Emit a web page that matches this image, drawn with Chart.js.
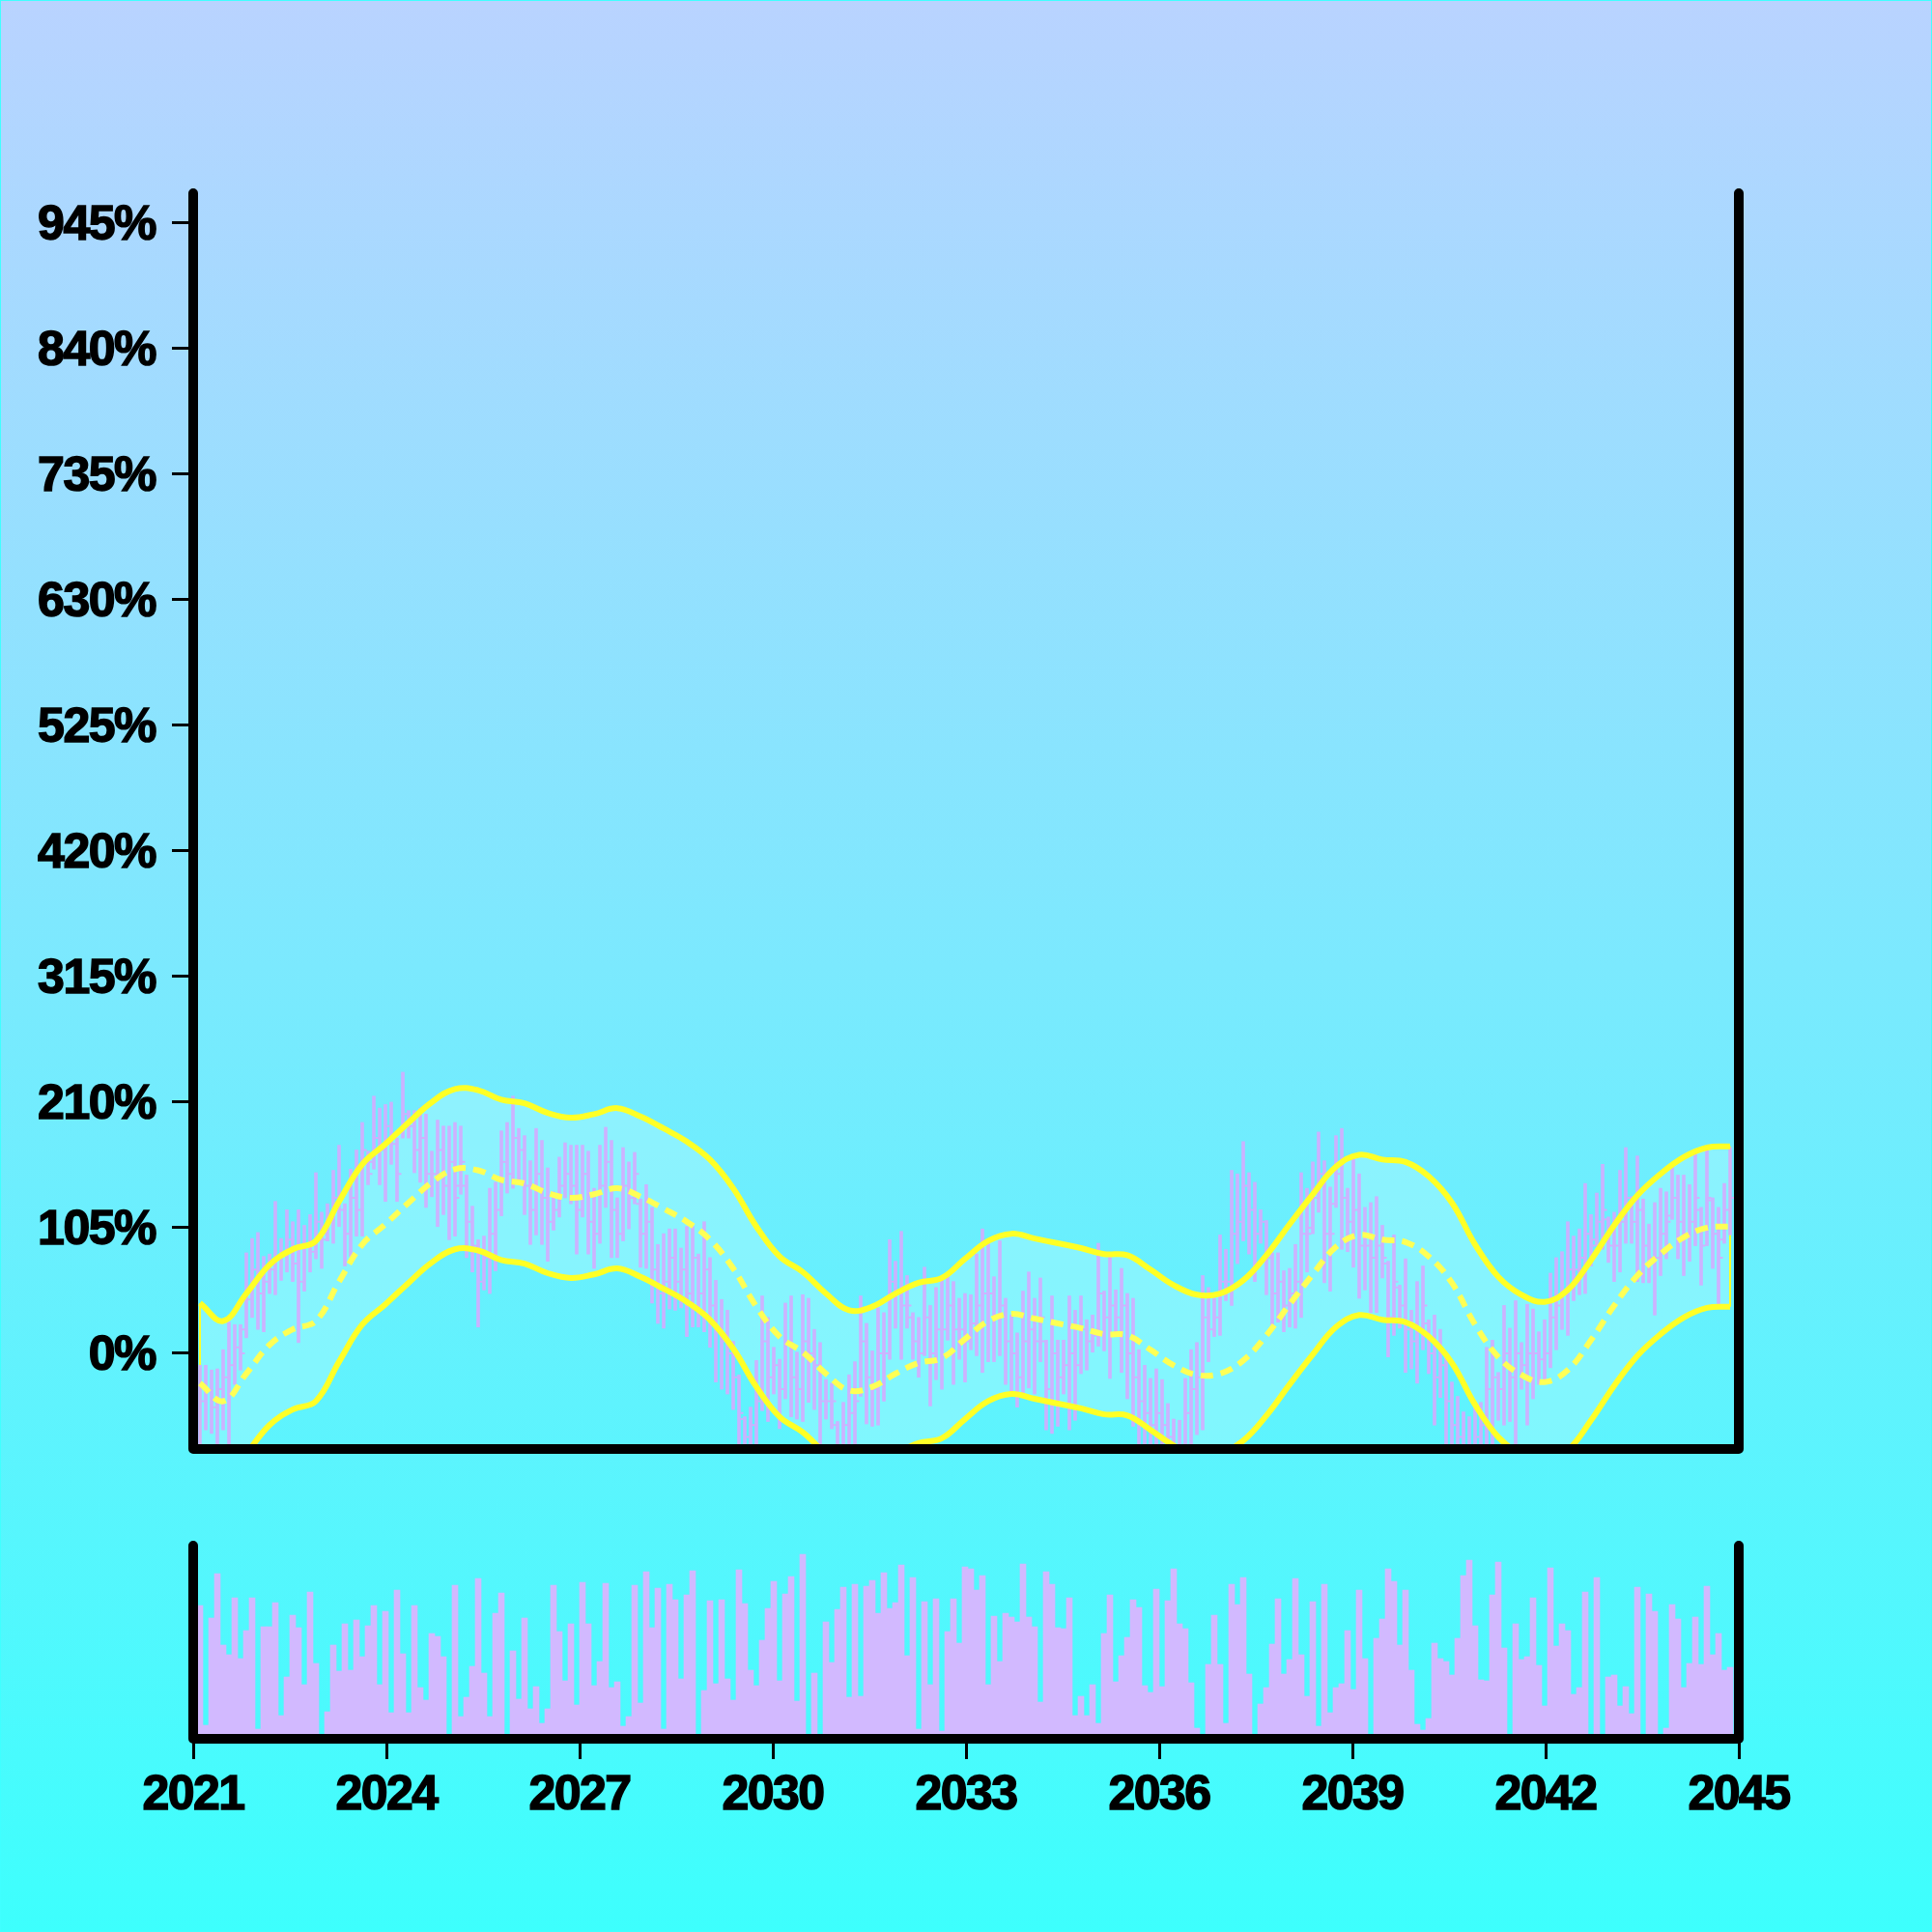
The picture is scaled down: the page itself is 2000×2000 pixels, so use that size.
<!DOCTYPE html>
<html>
<head>
<meta charset="utf-8">
<script src="https://cdn.jsdelivr.net/npm/chart.js@4.4.1/dist/chart.umd.min.js"></script>
<style>
  html, body { margin: 0; padding: 0; }
  body {
    width: 2000px; height: 2000px; position: relative; overflow: hidden;
    background: linear-gradient(to bottom, #b9d3ff 0%, #3dfffd 100%);
  }
  #frame { position: absolute; left: 0; top: 0; width: 1998px; height: 1998px; border: 1px solid #40ffff; }
  #priceChart { position: absolute; left: 0; top: 0; }
  #volumeChart { position: absolute; left: 0; top: 1580px; }
</style>
</head>
<body>
<div id="frame"></div>
<canvas id="priceChart" width="2000" height="1560"></canvas>
<canvas id="volumeChart" width="2000" height="420"></canvas>
<script>
// x tick labels (years) and y tick values (%)
const yearTicks = [2021, 2024, 2027, 2030, 2033, 2036, 2039, 2042, 2045];
const pctTicks = [0, 105, 210, 315, 420, 525, 630, 735, 840, 945];

// one bar every 0.09 year, first one just after 2021
const firstBar = 2021.105;
const barStep = 0.09;

const high = [
  -10, -10, -14, -13, 3, 26, 24, 24, 84, 96,
  101, 81, 83, 127, 96, 120, 110, 120, 107, 116,
  151, 118, 125, 153, 174, 125, 154, 170, 193, 169,
  215, 205, 208, 210, 180, 235, 203, 203, 205, 200,
  169, 195, 190, 190, 193, 190, 149, 123, 95, 98,
  138, 143, 186, 193, 215, 188, 182, 161, 188, 178,
  155, 135, 164, 176, 174, 174, 174, 169, 138, 174,
  189, 178, 130, 172, 160, 168, 129, 141, 122, 91,
  100, 104, 104, 88, 106, 106, 83, 110, 80, 61,
  45, 36, 10, -18, -53, -45, -6, 48, 30, 5,
  -5, 42, 48, 1, 49, 46, 20, 9, -22, -25,
  -57, -41, -18, -7, 48, 25, 2, 38, 34, 95,
  77, 102, 65, 34, 30, 72, 40, 55, 63, 65,
  60, 46, 50, 49, 83, 104, 92, 64, 94, 46,
  32, 17, 52, 68, 46, 63, 11, 48, 11, 11,
  48, 36, 48, 28, 32, 92, 52, 81, 53, 71,
  50, 46, 3, -10, -21, -13, -22, -42, -55, -56,
  -21, 3, 9, 65, 55, 46, 99, 87, 153, 150,
  177, 151, 143, 120, 111, 84, 84, 69, 71, 91,
  151, 138, 160, 185, 161, 139, 182, 188, 138, 164,
  150, 122, 126, 131, 107, 77, 99, 57, 79, 36,
  60, 73, 28, 32, 20, -2, -24, -36, -49, -53,
  -45, -41, 5, 11, -16, 40, 21, 44, 9, 41,
  37, 18, 28, 67, 80, 85, 110, 98, 104, 142,
  116, 134, 158, 114, 118, 153, 172, 131, 165, 129,
  108, 126, 138, 135, 157, 149, 149, 141, 169, 122,
  172, 130, 122, 142, 172
];
const low = [
  -85, -64, -67, -85, -64, -85, -26, -14, 13, 30,
  20, 18, 50, 49, 61, 68, 60, 9, 52, 68,
  79, 71, 94, 92, 106, 73, 81, 98, 98, 141,
  154, 141, 127, 158, 127, 180, 180, 151, 143, 122,
  131, 106, 116, 95, 98, 133, 80, 68, 22, 53,
  50, 69, 115, 134, 138, 145, 116, 91, 99, 91,
  77, 103, 114, 130, 125, 83, 114, 83, 71, 92,
  122, 80, 80, 94, 104, 125, 72, 71, 42, 25,
  21, 37, 36, 38, 14, 22, 22, 18, 5, -24,
  -30, -34, -47, -90, -95, -95, -90, -48, -57, -34,
  -63, -38, -53, -55, -57, -41, -47, -90, -55, -63,
  -95, -95, -90, -90, -36, -59, -61, -60, -40, -5,
  21, -5, 21, -5, -20, -2, -44, -22, -30, 11,
  -26, -5, -24, 3, -2, -16, -7, -7, -2, -26,
  -34, -45, -34, -29, -34, -7, -64, -67, -61, -34,
  -64, -56, -17, -14, 1, 6, 2, -21, 14, -16,
  -38, -61, -90, -92, -95, -92, -95, -100, -100, -100,
  -95, -90, -68, -64, -7, 14, 15, 44, 40, 75,
  94, 83, 60, 92, 49, 21, 26, 18, 22, 21,
  30, 68, 100, 118, 59, 52, 122, 87, 85, 72,
  46, 53, 34, 34, 63, -3, 15, 21, -16, -13,
  -25, 3, -17, -60, -37, -90, -92, -95, -100, -100,
  -98, -96, -90, -88, -56, -60, -57, -85, -30, -60,
  -38, -26, -24, -12, 3, 20, 15, 44, 49, 50,
  73, 90, 87, 76, 60, 68, 92, 92, 60, 59,
  59, 32, 65, 79, 112, 79, 65, 77, 90, 57,
  90, 71, 41, 92, 99
];
const open = [
  -50, -40, -30, -45, -30, -20, -10, 5, 20, 45,
  70, 50, 60, 70, 80, 85, 95, 75, 60, 90,
  85, 110, 100, 110, 130, 120, 100, 130, 120, 160,
  160, 180, 170, 190, 175, 185, 200, 190, 170, 180,
  150, 150, 170, 140, 160, 140, 140, 110, 90, 60,
  80, 100, 120, 160, 150, 180, 170, 140, 120, 150,
  130, 110, 120, 140, 150, 140, 120, 150, 110, 100,
  140, 160, 120, 100, 140, 130, 125, 100, 110, 70,
  50, 60, 80, 60, 70, 50, 80, 50, 70, 40,
  20, 10, 0, -20, -55, -70, -60, -40, 10, -20,
  -10, -30, 10, -20, -30, 10, 0, -10, -40, -40,
  -60, -80, -60, -50, -30, 10, -20, -30, 0, 0,
  60, 50, 40, 30, 10, 0, 30, 0, 20, 20,
  40, 20, 20, 10, 25, 40, 50, 50, 30, 40,
  10, 0, -20, 10, 20, 10, 10, -30, 0, -20,
  -10, 0, -10, 20, 10, 15, 50, 30, 40, 30,
  40, 0, -20, -40, -50, -60, -50, -60, -70, -80,
  -80, -50, -30, -20, 30, 20, 30, 60, 60, 100,
  110, 140, 120, 100, 110, 80, 50, 60, 40, 50,
  60, 100, 105, 130, 150, 100, 125, 150, 130, 110,
  120, 90, 90, 80, 90, 75, 30, 55, 40, 20,
  10, 20, 25, 0, -20, -10, -40, -60, -70, -80,
  -80, -70, -60, -30, -20, -30, 0, -20, 0, -10,
  0, 0, -5, 0, 30, 40, 50, 70, 70, 80,
  100, 95, 110, 112, 90, 90, 110, 130, 110, 120,
  90, 80, 80, 100, 115, 130, 110, 100, 110, 120,
  90, 128, 100, 95, 120
];
const close = [
  -40, -30, -45, -30, -20, -10, 5, 0, 45, 70,
  50, 60, 70, 80, 85, 95, 75, 60, 90, 85,
  110, 95, 110, 130, 120, 100, 130, 120, 170, 150,
  180, 170, 190, 175, 150, 200, 190, 170, 180, 150,
  150, 170, 140, 160, 130, 160, 110, 90, 60, 80,
  100, 120, 160, 150, 180, 170, 140, 120, 150, 130,
  110, 120, 140, 150, 140, 120, 150, 110, 100, 140,
  160, 120, 100, 140, 130, 150, 100, 110, 70, 50,
  60, 80, 60, 70, 50, 80, 50, 70, 40, 20,
  10, 0, -20, -50, -70, -60, -40, 10, -20, -10,
  -30, 10, -20, -30, 10, 0, -10, -40, -40, -40,
  -80, -60, -50, -40, 10, -20, -30, 0, 0, 60,
  50, 40, 40, 10, 0, 30, 0, 20, 20, 40,
  20, 20, 10, 25, 40, 50, 50, 30, 40, 10,
  0, -20, 10, 20, 10, 30, -30, 0, -20, -10,
  0, -10, 20, 10, 15, 50, 30, 40, 30, 40,
  0, -20, -40, -50, -60, -50, -60, -70, -80, -80,
  -50, -30, -20, 30, 20, 30, 60, 60, 100, 110,
  140, 120, 100, 110, 80, 50, 60, 40, 50, 60,
  100, 100, 130, 150, 100, 100, 150, 130, 110, 120,
  90, 90, 80, 90, 80, 30, 60, 40, 20, 10,
  20, 40, 0, -20, -10, -40, -60, -70, -80, -80,
  -70, -60, -30, -20, -30, 0, -20, 0, -10, 0,
  0, -5, 0, 30, 40, 50, 70, 70, 80, 100,
  90, 110, 120, 90, 90, 110, 130, 110, 120, 90,
  80, 80, 100, 110, 130, 110, 100, 110, 130, 90,
  130, 100, 80, 120, 130
];
// volume in panel units (panel is 0..200 tall)
const volume = [
  138, 14, 125, 171, 97, 87, 146, 83, 112, 146,
  10, 116, 116, 141, 24, 64, 128, 115, 56, 152,
  78, 0, 28, 97, 70, 119, 71, 123, 85, 117,
  138, 56, 132, 27, 154, 88, 27, 138, 53, 40,
  109, 106, 85, 0, 159, 23, 43, 75, 166, 68,
  23, 130, 151, 0, 91, 41, 125, 31, 54, 16,
  31, 159, 111, 60, 119, 35, 162, 119, 55, 80,
  161, 53, 59, 13, 23, 159, 37, 173, 115, 156,
  10, 160, 144, 62, 149, 174, 0, 50, 143, 57,
  144, 62, 40, 175, 140, 71, 55, 102, 135, 163,
  60, 150, 168, 39, 191, 0, 68, 2, 121, 79,
  134, 157, 43, 160, 44, 158, 164, 130, 172, 135,
  141, 180, 86, 167, 10, 142, 56, 145, 8, 111,
  145, 99, 178, 176, 154, 169, 56, 127, 80, 130,
  126, 121, 181, 126, 116, 38, 173, 160, 115, 114,
  146, 24, 44, 24, 56, 16, 109, 149, 59, 86,
  105, 144, 136, 55, 48, 155, 54, 143, 176, 119,
  114, 58, 11, 0, 77, 128, 77, 16, 160, 139,
  167, 67, 0, 36, 53, 98, 145, 67, 82, 166,
  87, 44, 142, 13, 160, 27, 53, 57, 112, 51,
  154, 83, 0, 104, 124, 176, 163, 97, 154, 71,
  15, 9, 21, 99, 83, 80, 66, 104, 169, 185,
  117, 61, 60, 149, 183, 94, 0, 119, 82, 85,
  146, 76, 34, 177, 96, 119, 112, 46, 53, 152,
  0, 167, 0, 64, 66, 34, 54, 26, 157, 0,
  150, 132, 0, 11, 139, 124, 53, 78, 126, 77,
  158, 87, 109, 71, 74
];
// band centre line, read every 4th bar, and its half width
const bandStep = 4;
const bandMid = [
  -25, -40, -17, 7, 20, 27, 60, 91, 108, 126,
  143, 154, 153, 145, 142, 134, 130, 133, 138, 131,
  121, 110, 95, 71, 39, 14, 1, -17, -31, -28,
  -17, -8, -4, 12, 27, 33, 29, 25, 21, 16,
  15, 3, -10, -18, -17, -6, 15, 41, 66, 89,
  99, 95, 93, 81, 59, 24, -3, -18, -24, -14,
  11, 40, 65, 83, 97, 105, 106
];
const bandHalfWidth = 67;

const barX = i => firstBar + i * barStep;
const candleColor = 'rgba(210, 172, 255, 0.92)';
const yellow = '#ffff26';
const fontSpec = { family: '"Liberation Sans", Arial, sans-serif', size: 50, weight: 'bold' };

// tighter, heavier labels like the original
const tightText = {
  id: 'tightText',
  beforeDraw(chart) { chart.ctx.letterSpacing = '-1.5px'; }
};

const frame = {
  id: 'frame',
  afterDraw(chart) {
    const { ctx, chartArea: a } = chart;
    ctx.save();
    ctx.strokeStyle = '#000';
    ctx.lineWidth = 10;
    ctx.lineCap = 'round';
    ctx.lineJoin = 'round';
    ctx.beginPath();
    ctx.moveTo(a.left, a.top);
    ctx.lineTo(a.left, a.bottom);
    ctx.lineTo(a.right, a.bottom);
    ctx.lineTo(a.right, a.top);
    ctx.stroke();
    ctx.restore();
  }
};

// thin closing edges of the band at its first and last point
const bandEnds = {
  id: 'bandEnds',
  beforeDatasetsDraw(chart) {
    const { ctx, chartArea: a, scales: { x, y } } = chart;
    const last = bandMid.length - 1;
    ctx.save();
    ctx.beginPath();
    ctx.rect(a.left, a.top, a.width, a.height);
    ctx.clip();
    ctx.strokeStyle = yellow;
    ctx.lineWidth = 2;
    ctx.beginPath();
    [0, last].forEach(i => {
      const px = x.getPixelForValue(barX(i * bandStep));
      ctx.moveTo(px, y.getPixelForValue(bandMid[i] + bandHalfWidth));
      ctx.lineTo(px, y.getPixelForValue(bandMid[i] - bandHalfWidth));
    });
    ctx.stroke();
    ctx.restore();
  }
};

const ohlcTicks = {
  id: 'ohlcTicks',
  afterDatasetDraw(chart, args) {
    if (args.index !== 0) return;
    const { ctx, chartArea: a, scales: { x, y } } = chart;
    ctx.save();
    ctx.beginPath();
    ctx.rect(a.left, a.top, a.width, a.height);
    ctx.clip();
    ctx.strokeStyle = candleColor;
    ctx.lineWidth = 2;
    ctx.beginPath();
    high.forEach((h, i) => {
      const px = x.getPixelForValue(barX(i));
      const yo = y.getPixelForValue(open[i]);
      const yc = y.getPixelForValue(close[i]);
      ctx.moveTo(px - 4.5, yo); ctx.lineTo(px - 1.5, yo);
      ctx.moveTo(px + 1.5, yc); ctx.lineTo(px + 4.5, yc);
    });
    ctx.stroke();
    ctx.restore();
  }
};

Chart.defaults.font = fontSpec;
Chart.defaults.color = '#000';

const bandPoints = off => bandMid.map((m, i) => ({ x: barX(i * bandStep), y: m + off }));

new Chart(document.getElementById('priceChart'), {
  data: {
    datasets: [
      {
        type: 'bar',
        data: high.map((h, i) => ({ x: barX(i), y: [low[i], h] })),
        backgroundColor: candleColor,
        barThickness: 3,
        order: 10
      },
      {
        type: 'line',
        data: bandPoints(bandHalfWidth),
        borderColor: yellow,
        borderWidth: 6,
        pointRadius: 0,
        tension: 0.4,
        fill: { target: 3 },
        backgroundColor: 'rgba(190, 252, 255, 0.36)',
        order: 2
      },
      {
        type: 'line',
        data: bandPoints(0),
        borderColor: '#ffff55',
        borderWidth: 6,
        borderDash: [13, 8],
        pointRadius: 0,
        tension: 0.4,
        fill: false,
        order: 1
      },
      {
        type: 'line',
        data: bandPoints(-bandHalfWidth),
        borderColor: yellow,
        borderWidth: 6,
        pointRadius: 0,
        tension: 0.4,
        fill: false,
        order: 2
      }
    ]
  },
  options: {
    responsive: false,
    animation: false,
    layout: { padding: { top: 200, right: 200, bottom: 60, left: 0 } },
    plugins: {
      legend: { display: false },
      tooltip: { enabled: false },
      filler: { drawTime: 'beforeDatasetsDraw' }
    },
    scales: {
      x: { type: 'linear', min: 2021, max: 2045, offset: false, display: false },
      y: {
        type: 'linear', min: -80, max: 970,
        afterFit: s => { s.width = 200; },
        afterBuildTicks: s => { s.ticks = pctTicks.map(v => ({ value: v })); },
        border: { display: false },
        grid: { drawOnChartArea: false, tickLength: 22, color: '#000', lineWidth: 3 },
        ticks: {
          padding: 17, labelOffset: 3, callback: v => v + '%', font: fontSpec,
          textStrokeColor: '#000', textStrokeWidth: 1.5
        }
      }
    }
  },
  plugins: [tightText, bandEnds, ohlcTicks, frame]
});

new Chart(document.getElementById('volumeChart'), {
  type: 'bar',
  data: {
    datasets: [{
      data: volume.map((v, i) => ({ x: barX(i), y: v })),
      backgroundColor: '#d2b9ff',
      barPercentage: 1,
      categoryPercentage: 1
    }]
  },
  options: {
    responsive: false,
    animation: false,
    layout: { padding: { top: 20, right: 200, bottom: 0, left: 200 } },
    plugins: { legend: { display: false }, tooltip: { enabled: false } },
    scales: {
      x: {
        type: 'linear', min: 2021, max: 2045, offset: false,
        afterFit: s => { s.height = 200; },
        afterBuildTicks: s => { s.ticks = yearTicks.map(v => ({ value: v })); },
        border: { display: false },
        grid: { offset: false, drawOnChartArea: false, tickLength: 21, color: '#000', lineWidth: 3 },
        ticks: {
          padding: 8, autoSkip: false, maxRotation: 0, callback: v => String(v), font: fontSpec,
          textStrokeColor: '#000', textStrokeWidth: 1.5
        }
      },
      y: { min: 0, max: 200, display: false }
    }
  },
  plugins: [tightText, frame]
});
</script>
</body>
</html>
